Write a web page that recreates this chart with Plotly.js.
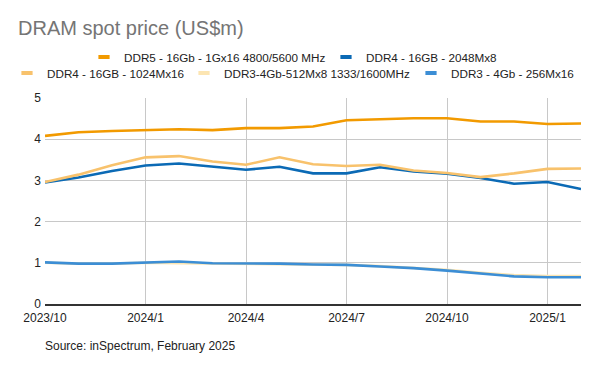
<!DOCTYPE html>
<html>
<head>
<meta charset="utf-8">
<script src="https://cdn.plot.ly/plotly-3.0.1.min.js"></script>
<style>html,body{margin:0;padding:0;background:#fff;}#chart{width:600px;height:371px;}</style>
</head>
<body>
<div id="chart"></div>
<script>
const months = ["2023/10","2023/11","2023/12","2024/1","2024/2","2024/3","2024/4","2024/5","2024/6","2024/7","2024/8","2024/9","2024/10","2024/11","2024/12","2025/1","2025/2"];
const tickLabels = ["2023/10","2024/1","2024/4","2024/7","2024/10","2025/1"];

const ddr5_16Gb = [4.08,4.17,4.20,4.22,4.24,4.22,4.27,4.27,4.31,4.46,4.49,4.51,4.51,4.43,4.43,4.37,4.38];
const ddr4_2048 = [2.95,3.07,3.23,3.36,3.41,3.33,3.26,3.33,3.17,3.17,3.32,3.22,3.16,3.06,2.92,2.96,2.79];
const ddr4_1024 = [2.96,3.14,3.37,3.56,3.59,3.46,3.38,3.56,3.39,3.35,3.38,3.24,3.18,3.08,3.17,3.28,3.29];
const ddr3_512 = [1.00,0.98,0.98,1.00,0.99,0.98,0.98,0.97,0.96,0.95,0.92,0.88,0.83,0.76,0.70,0.68,0.68];
const ddr3_256 = [1.01,0.98,0.98,1.01,1.03,0.99,0.99,0.98,0.96,0.95,0.91,0.87,0.81,0.74,0.67,0.65,0.65];

const seriesNames = ["DDR5 - 16Gb - 1Gx16 4800/5600 MHz","DDR4 - 16GB - 2048Mx8","DDR4 - 16GB - 1024Mx16","DDR3-4Gb-512Mx8 1333/1600MHz","DDR3 - 4Gb - 256Mx16"];
const seriesValues = [ddr5_16Gb, ddr4_2048, ddr4_1024, ddr3_512, ddr3_256];
const colors = ["#F29A00","#0B6AB5","#F8C26C","#FCE5B2","#3C8ED5"];
const legendIds = ["legend","legend2","legend3","legend4","legend5"];
// legend entry placement (container px): left x and centre y
const legendX = [84, 326, 7, 184, 411];
const legendY = [57, 57, 73, 73, 73];

const traces = [];
seriesValues.forEach((vals, i) => {
  traces.push({
    x: months, y: vals, type: "scatter", mode: "lines",
    name: seriesNames[i], showlegend: false,
    line: {color: colors[i], width: 2.6},
    hoverinfo: "x+y+name"
  });
});
seriesValues.forEach((vals, i) => {
  traces.push({
    x: [null], y: [null], type: "scatter", mode: "markers",
    name: seriesNames[i], legend: legendIds[i],
    marker: {symbol: "line-ew", size: 8, color: colors[i], line: {color: colors[i], width: 4}}
  });
});

const legendFont = {family: "Liberation Sans, Arial, sans-serif", size: 11.7, color: "#222"};
const layout = {
  width: 600, height: 371,
  margin: {l: 45, r: 19, t: 98, b: 67},
  paper_bgcolor: "#fff", plot_bgcolor: "#fff",
  font: {family: "Liberation Sans, Arial, sans-serif", size: 12, color: "#222"},
  title: {
    text: "DRAM spot price (US$m)",
    font: {family: "Liberation Sans, Arial, sans-serif", size: 20, color: "#757575"},
    x: 18/600, xref: "container", xanchor: "left",
    y: 1 - 28/371, yref: "container", yanchor: "middle"
  },
  xaxis: {
    type: "category", categoryorder: "array", categoryarray: months,
    range: [0, months.length - 1],
    tickmode: "array", tickvals: tickLabels, ticktext: tickLabels,
    showgrid: true, gridcolor: "#c8c8c8", gridwidth: 1,
    showline: true, linecolor: "#333", linewidth: 1.5,
    ticks: "", ticklabelstandoff: 2, tickfont: {size: 12, color: "#222"},
    zeroline: false, fixedrange: true
  },
  yaxis: {
    range: [0, 5], dtick: 1, tick0: 0,
    showgrid: true, gridcolor: "#c8c8c8", gridwidth: 1,
    zeroline: false, showline: false, ticks: "", ticklabelstandoff: 3,
    tickfont: {size: 12, color: "#222"}, fixedrange: true
  },
  annotations: [{
    text: "Source: inSpectrum, February 2025",
    xref: "paper", yref: "paper", x: -2/536, xanchor: "left",
    y: (304 - 346) / 206, yanchor: "middle", showarrow: false,
    font: {family: "Liberation Sans, Arial, sans-serif", size: 12, color: "#222"}
  }]
};
legendIds.forEach((id, i) => {
  layout[id] = {
    orientation: "h", xref: "container", yref: "container",
    x: legendX[i]/600, xanchor: "left", y: 1 - legendY[i]/371, yanchor: "middle",
    font: legendFont, bgcolor: "rgba(0,0,0,0)", itemclick: false, itemdoubleclick: false
  };
});

Plotly.newPlot("chart", traces, layout, {displayModeBar: false, staticPlot: true});
</script>
</body>
</html>
